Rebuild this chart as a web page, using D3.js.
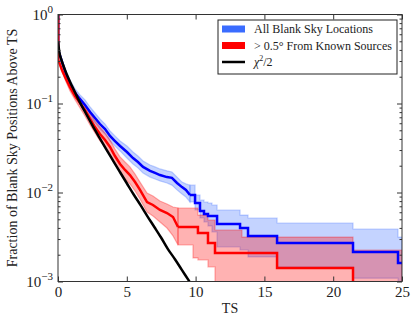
<!DOCTYPE html>
<html>
<head>
<meta charset="utf-8">
<script src="https://cdn.jsdelivr.net/npm/d3@7"></script>
<style>
  body { margin: 0; background: #fff; }
  svg { display: block; }
  text { font-family: "Liberation Serif", "DejaVu Serif", serif; fill: #222; }
</style>
</head>
<body>
<svg width="415" height="315"></svg>
<script>
// Blank sky, all locations
const blueTS = [0, 0.02, 0.29, 0.58, 0.94, 1.24, 1.60, 1.96, 2.33, 2.69, 3.05, 3.42, 3.78, 4.14, 4.51, 5.01, 5.45, 5.81, 6.18, 6.69,
  7.05, 7.41, 7.92, 8.28, 8.65, 9.01, 9.30, 9.59, 9.96, 10.32, 10.61, 10.90, 11.19, 11.56, 13.23, 13.81, 15.92, 21.44, 24.71, 25];
const blueVal = [1.0, 0.399, 0.293, 0.215, 0.157, 0.131, 0.112, 0.0962, 0.0803, 0.0687, 0.0588, 0.0517, 0.0432, 0.0379, 0.0333,
  0.0285, 0.0244, 0.0220, 0.0194, 0.0175, 0.0166, 0.0157, 0.0149, 0.0146, 0.0128, 0.0115, 0.0107, 0.00937, 0.00762, 0.00619,
  0.00573, 0.00544, 0.00544, 0.00443, 0.00399, 0.00325, 0.00271, 0.00215, 0.00161, 0.00161];
const blueHi = [1.0, 0.41, 0.308, 0.232, 0.175, 0.146, 0.125, 0.110, 0.0914, 0.0782, 0.0670, 0.0588, 0.0491, 0.0432, 0.0379,
  0.0333, 0.0285, 0.0257, 0.0226, 0.0204, 0.0194, 0.0184, 0.0175, 0.0170, 0.0149, 0.0131, 0.0125, 0.0121, 0.00937, 0.00824,
  0.00782, 0.00762, 0.00724, 0.00636, 0.00558, 0.00517, 0.00454, 0.00389, 0.00316, 0.00316];
const blueLo = [1.0, 0.389, 0.278, 0.199, 0.142, 0.118, 0.101, 0.0845, 0.0705, 0.0604, 0.0517, 0.0454, 0.0379, 0.0333, 0.0293,
  0.0244, 0.0209, 0.0189, 0.0166, 0.0149, 0.0142, 0.0135, 0.0128, 0.0121, 0.0107, 0.00962, 0.00890, 0.00782, 0.00636, 0.00517,
  0.00466, 0.00421, 0.00360, 0.00244, 0.00226, 0.00189, 0.00146, 0.00109, 0.00094, 0.00094];

// > 0.5 deg from known sources
const redTS = [0, 0.02, 0.29, 0.58, 0.87, 1.24, 1.60, 1.96, 2.33, 2.69, 3.05, 3.42, 3.78, 4.14, 4.51, 4.87, 5.23, 5.60, 5.96, 6.47,
  6.90, 7.41, 7.92, 8.36, 8.72, 9.81, 10.17, 10.90, 11.41, 13.37, 15.92, 21.44, 25];
const redVal = [1.0, 0.308, 0.238, 0.189, 0.153, 0.121, 0.101, 0.0845, 0.0670, 0.0544, 0.0454, 0.0389, 0.0325, 0.0257, 0.0209,
  0.0179, 0.0157, 0.0131, 0.0107, 0.00782, 0.00724, 0.00636, 0.00588, 0.00530, 0.00410, 0.00410, 0.00351, 0.00271, 0.00209,
  0.00209, 0.00142, 0.0008, 0.0008];
const redHi = [1.0, 0.316, 0.250, 0.204, 0.170, 0.138, 0.115, 0.0987, 0.0782, 0.0636, 0.0544, 0.0466, 0.0389, 0.0308, 0.0251,
  0.0220, 0.0194, 0.0161, 0.0131, 0.00987, 0.00914, 0.00803, 0.00743, 0.00687, 0.00670, 0.00670, 0.00558, 0.00491, 0.00379,
  0.00316, 0.00316, 0.00226, 0.00226];
const redLo = [1.0, 0.300, 0.226, 0.175, 0.138, 0.110, 0.0890, 0.0724, 0.0573, 0.0466, 0.0379, 0.0325, 0.0264, 0.0209, 0.0170,
  0.0142, 0.0125, 0.0104, 0.00845, 0.00604, 0.00544, 0.00466, 0.00399, 0.00325, 0.00257, 0.00184, 0.00175, 0.00146, 0.0005,
  0.0005, 0.0005, 0.0005, 0.0005];

// chi^2 / 2 reference curve
const chiTS = [0, 0.1, 0.25, 0.5, 0.75, 1, 1.5, 2, 2.5, 3, 3.5, 4, 4.5, 5, 5.5, 6, 6.5, 7, 7.5, 8, 8.5, 9, 9.5, 10];
const chiVal = [0.5, 0.376, 0.309, 0.240, 0.193, 0.159, 0.110, 0.0787, 0.0569, 0.0417, 0.0307, 0.0228, 0.0170, 0.0127, 0.0095,
  0.0072, 0.0054, 0.0041, 0.0031, 0.0023, 0.00178, 0.00135, 0.00103, 0.00078];

const xTicks = [0, 5, 10, 15, 20, 25];
const yExponents = [0, -1, -2, -3];

// below this TS the curves are many tiny steps, drawn as a jagged line
const DENSE_UNTIL = 9.6;

const svg = d3.select("svg");
const margin = { top: 14.5, right: 13, bottom: 33.5, left: 58 };
const width = 415 - margin.left - margin.right;
const height = 315 - margin.top - margin.bottom;

const x = d3.scaleLinear().domain([0, 25]).range([0, width]);
const y = d3.scaleLog().domain([1e-3, 1]).range([height, 0]);

const g = svg.append("g").attr("transform", `translate(${margin.left},${margin.top})`);

svg.append("defs").append("clipPath").attr("id", "plot-clip")
  .append("rect").attr("width", width).attr("height", height);

const zip = (ts, v, hi, lo) => ts.map((t, i) => ({ t, v: v[i], hi: hi[i], lo: lo[i] }));
const blue = zip(blueTS, blueVal, blueHi, blueLo);
const red = zip(redTS, redVal, redHi, redLo);
const chi = chiTS.map((t, i) => ({ t, v: chiVal[i] }));

// split a series: first step from 1, dense part linear, sparse tail as steps
function pieces(data) {
  const head = data.slice(0, 2);
  const dense = data.filter((d, i) => i >= 1 && d.t <= DENSE_UNTIL);
  const tail = data.filter((d) => d.t >= dense[dense.length - 1].t);
  return { head, dense, tail };
}

const bandStep = d3.area().curve(d3.curveStepAfter).x((d) => x(d.t)).y0((d) => y(d.lo)).y1((d) => y(d.hi));
const bandLin = d3.area().x((d) => x(d.t)).y0((d) => y(d.lo)).y1((d) => y(d.hi));
const step = d3.line().curve(d3.curveStepAfter).x((d) => x(d.t)).y((d) => y(d.v));
const lin = d3.line().x((d) => x(d.t)).y((d) => y(d.v));
const smooth = d3.line().curve(d3.curveMonotoneX).x((d) => x(d.t)).y((d) => y(d.v));

const plot = g.append("g").attr("clip-path", "url(#plot-clip)");

function drawBand(data, rgb) {
  const p = pieces(data);
  [bandLin(p.dense), bandStep(p.tail)].forEach((d) => {
    plot.append("path").attr("d", d)
      .attr("fill", `rgba(${rgb},0.3)`).attr("stroke", `rgba(${rgb},0.3)`).attr("stroke-width", 1.2);
  });
}
function drawLine(data, color) {
  const p = pieces(data);
  [step(p.head), lin(p.dense), step(p.tail)].forEach((d) => {
    plot.append("path").attr("d", d)
      .attr("fill", "none").attr("stroke", color).attr("stroke-width", 2.5).attr("stroke-linejoin", "miter");
  });
}

drawBand(blue, "58,110,255");
drawBand(red, "255,0,0");
drawLine(blue, "#0000ff");
drawLine(red, "#ff0000");
plot.append("path").attr("d", smooth(chi))
  .attr("fill", "none").attr("stroke", "#000").attr("stroke-width", 2.5);

// Axes: ticks point inward on all four sides
const minors = [];
yExponents.slice(0, 3).forEach((e) => {
  for (let k = 2; k <= 9; k++) minors.push(k * Math.pow(10, e - 1));
});
const majors = yExponents.map((e) => Math.pow(10, e));

function styleAxis(sel) {
  sel.select(".domain").remove();
  sel.selectAll(".tick line").attr("stroke", "#333");
}

g.append("g").attr("transform", `translate(0,${height})`)
  .call(d3.axisBottom(x).tickValues(xTicks).tickSize(-5).tickPadding(5).tickFormat(d3.format("d")))
  .call(styleAxis)
  .selectAll("text").style("font-size", "15px").style("font-family", '"Liberation Serif", serif').attr("fill", "#222");
g.append("g")
  .call(d3.axisTop(x).tickValues(xTicks).tickSize(-5).tickFormat(""))
  .call(styleAxis);

[[d3.axisLeft, 0], [d3.axisRight, width]].forEach(([axisFn, tx]) => {
  g.append("g").attr("transform", `translate(${tx},0)`)
    .call(axisFn(y).tickValues(majors).tickSize(-5).tickFormat(""))
    .call(styleAxis);
  g.append("g").attr("transform", `translate(${tx},0)`)
    .call(axisFn(y).tickValues(minors).tickSize(-2.5).tickFormat(""))
    .call(styleAxis);
});

// y tick labels as 10^n
const yLabels = g.append("g");
yExponents.forEach((e) => {
  const t = yLabels.append("text")
    .attr("x", -5).attr("y", y(Math.pow(10, e)) + 5)
    .attr("text-anchor", "end").style("font-size", "15px");
  t.append("tspan").text("10");
  t.append("tspan").attr("dy", -7).style("font-size", "11px").text(e === 0 ? "0" : "\u2212" + (-e));
});

// frame
g.append("rect").attr("width", width).attr("height", height)
  .attr("fill", "none").attr("stroke", "#333").attr("stroke-width", 1);

// axis titles
g.append("text").attr("x", width / 2).attr("y", height + 31)
  .attr("text-anchor", "middle").style("font-size", "14px").text("TS");
svg.append("text")
  .attr("transform", `translate(17,${margin.top + height / 2}) rotate(-90)`)
  .attr("text-anchor", "middle").style("font-size", "14px")
  .text("Fraction of Blank Sky Positions Above TS");

// legend
const legend = svg.append("g").attr("transform", "translate(218,20)");
legend.append("rect").attr("width", 179).attr("height", 54)
  .attr("fill", "#fff").attr("stroke", "#222").attr("stroke-width", 1);
const entries = [
  { type: "patch", color: "#3a6cff", label: "All Blank Sky Locations" },
  { type: "patch", color: "#ff0000", label: "> 0.5\u00b0 From Known Sources" },
  { type: "line", color: "#000", label: "chi" }
];
entries.forEach((d, i) => {
  const cy = 9 + i * 16.5;
  if (d.type === "patch") {
    legend.append("rect").attr("x", 4).attr("y", cy - 3.5).attr("width", 23).attr("height", 7).attr("fill", d.color);
  } else {
    legend.append("line").attr("x1", 4).attr("x2", 27).attr("y1", cy).attr("y2", cy)
      .attr("stroke", d.color).attr("stroke-width", 2.5);
  }
  const t = legend.append("text").attr("x", 36).attr("y", cy + 4).style("font-size", "12px");
  if (d.label === "chi") {
    t.append("tspan").style("font-style", "italic").text("\u03c7");
    t.append("tspan").attr("dy", -5).style("font-size", "8px").text("2");
    t.append("tspan").attr("dy", 5).text("/2");
  } else {
    t.text(d.label);
  }
});
</script>
</body>
</html>
